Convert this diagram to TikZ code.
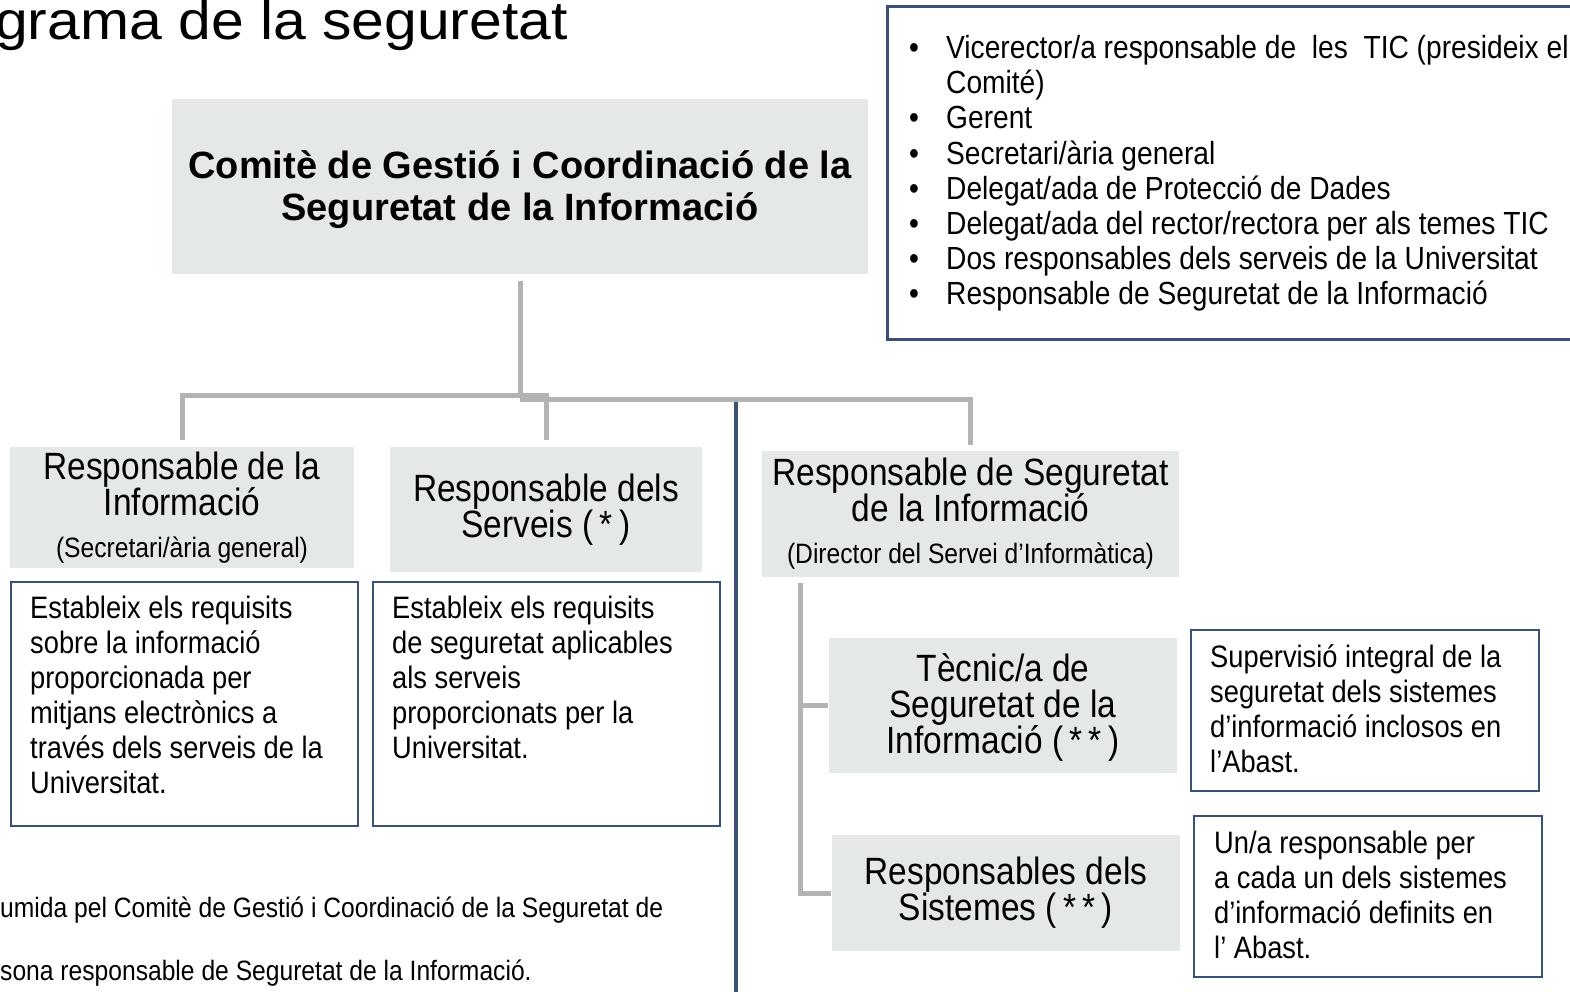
\documentclass[tikz,border=0pt]{standalone}
\usepackage{fontspec}
\setmainfont{Liberation Sans}[FakeStretch=0.88]
\newfontfamily\widef{Liberation Sans}
\newfontfamily\titlef{Liberation Sans}[FakeStretch=1.09]
\definecolor{boxgray}{HTML}{E4E9E7}
\definecolor{navy}{HTML}{3B5078}
\definecolor{linegray}{HTML}{B3B3B3}
\newcommand{\lowr}[2]{\raisebox{-#1}[\height][\depth]{#2}}
\begin{document}
\begin{tikzpicture}[x=1pt,y=-1pt,
  graybox/.style={fill=boxgray, inner sep=0pt, align=center, font=\fontsize{38}{36}\selectfont},
  navybox/.style={draw=navy, line width=2.5pt, inner sep=0pt},
  bodytext/.style={anchor=north west, inner sep=0pt, align=left, font=\fontsize{31}{35}\selectfont},
  bullline/.style={anchor=base west, inner sep=0pt, font=\fontsize{32}{35}\selectfont},
  conn/.style={draw=linegray, line width=5pt, line join=miter},
  foot/.style={anchor=base west, inner sep=0pt, font=\fontsize{28}{30}\selectfont}]
\clip (0,0) rectangle (1570,991);
\fill[white] (0,0) rectangle (1570,991);

% title
\node[anchor=base east, inner sep=0pt, font=\titlef\fontsize{54}{56}\selectfont] (title) at (568,39) {grama de la seguretat};

% committee
\node[graybox, minimum width=696pt, minimum height=175pt, font=\widef\bfseries\fontsize{38}{42}\selectfont] (comite) at (520,186.5) {\lowr{3pt}{Comitè de Gestió i Coordinació de la}\\\lowr{3pt}{Seguretat de la Informació}};

% members box
\node[navybox, anchor=north west, minimum width=700pt, minimum height=333pt] (members) at (886,5) {};
\node[bullline] (m1) at (909,58) {\makebox[37pt][l]{•}Vicerector/a responsable de\ \ les\ \ TIC (presideix el};
\node[bullline] (m1b) at (946,93) {Comité)};
\node[bullline] (m2) at (909,128) {\makebox[37pt][l]{•}Gerent};
\node[bullline] (m3) at (909,164) {\makebox[37pt][l]{•}Secretari/ària general};
\node[bullline] (m4) at (909,199) {\makebox[37pt][l]{•}Delegat/ada de Protecció de Dades};
\node[bullline] (m5) at (909,234) {\makebox[37pt][l]{•}Delegat/ada del rector/rectora per als temes TIC};
\node[bullline] (m6) at (909,269) {\makebox[37pt][l]{•}Dos responsables dels serveis de la Universitat};
\node[bullline] (m7) at (909,304) {\makebox[37pt][l]{•}Responsable de Seguretat de la Informació};

% second level
\node[graybox, minimum width=344pt, minimum height=121pt] (ri) at (182,507.5) {Responsable de la\\Informació\\[6pt]{\fontsize{28}{30}\selectfont(Secretari/ària general)}};
\node[graybox, minimum width=312pt, minimum height=125pt] (rs) at (546,509.5) {Responsable dels\\Serveis (\,*\,)};
\node[graybox, minimum width=417pt, minimum height=126pt] (rsi) at (970.5,514) {Responsable de Seguretat\\de la Informació\\[6pt]{\fontsize{28}{30}\selectfont(Director del Servei d’Informàtica)}};

% description boxes
\node[navybox, minimum width=347pt, minimum height=244pt] (di) at (184.5,704) {};
\node[bodytext] (dit) at (30,596) {Estableix els requisits\\sobre la informació\\proporcionada per\\mitjans electrònics a\\través dels serveis de la\\Universitat.};
\node[navybox, minimum width=347pt, minimum height=244pt] (ds) at (546.5,704) {};
\node[bodytext] (dst) at (392,596) {Estableix els requisits\\de seguretat aplicables\\als serveis\\proporcionats per la\\Universitat.};

% third level
\node[graybox, minimum width=348pt, minimum height=135pt] (tec) at (1003,705.5) {\lowr{2pt}{Tècnic/a de}\\\lowr{2pt}{Seguretat de la}\\\lowr{2pt}{Informació (\,*\,*\,)}};
\node[graybox, minimum width=348pt, minimum height=116pt] (rsis) at (1006,893) {Responsables dels\\Sistemes (\,*\,*\,)};
\node[navybox, minimum width=348pt, minimum height=161pt] (sup) at (1365,710.5) {};
\node[bodytext] (supt) at (1210,644) {Supervisió integral de la\\seguretat dels sistemes\\d’informació inclosos en\\l’Abast.};
\node[navybox, minimum width=348pt, minimum height=161pt] (una) at (1368,896.5) {};
\node[bodytext] (unat) at (1214,831) {Un/a responsable per\\a cada un dels sistemes\\d’informació definits en\\l’ Abast.};

% footnotes
\node[foot] (f1) at (0,917) {umida pel Comitè de Gestió i Coordinació de la Seguretat de};
\node[foot] (f2) at (0,980) {sona responsable de Seguretat de la Informació.};

% connectors
\coordinate (jL) at (520,395);
\coordinate (jR) at (520,399);
\coordinate (dtop) at (736,399);
\coordinate (dbot) at (736,995);
\coordinate (rt) at (800,583);
\draw[navy, line width=3.5pt] (dtop) -- (dbot);
\draw[conn] ([yshift=-7pt]comite.south) -- (jL);
\draw[conn] ([yshift=7pt]ri.north) |- (jL) -| ([yshift=7pt]rs.north);
\draw[conn] (jR) -| ([yshift=6pt]rsi.north);
\draw[conn] (rt) |- ([xshift=-1pt]rsis.west);
\draw[conn] (rt |- tec.west) -- ([xshift=-1pt]tec.west);
\end{tikzpicture}
\end{document}
